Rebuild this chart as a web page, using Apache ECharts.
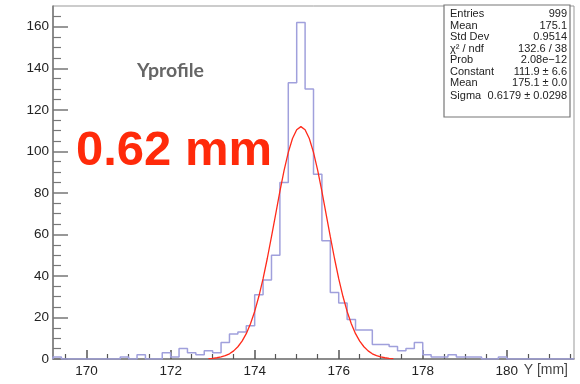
<!DOCTYPE html>
<html>
<head>
<meta charset="utf-8">
<script src="https://cdn.jsdelivr.net/npm/echarts@6/dist/echarts.min.js"></script>
<style>html,body{margin:0;padding:0;background:#fff;}#c{width:580px;height:384px;}</style>
</head>
<body>
<div id="c"></div>
<script>
// Histogram: bins of width 0.2 starting at 169.2 (62 bins up to 181.6)
const binStart = 169.2;
const binWidth = 0.2;
const counts = [1,0,0,0,0,0,0,0,1,0, 2,0,0,3,1,5,3,2,4,3, 8,12,13,16,31,38,50,85,133,162, 130,89,57,32,27,19,14,14,7,7, 6,4,5,8,2,1,1,2,1,1, 1,0,0,1,0,0,0,0,0,0, 0,0];

// Gaussian fit curve
const fitX = [172.9,173.0,173.1,173.2,173.3,173.4,173.5,173.6,173.7,173.8,173.9,174.0,174.1,174.2,174.3,174.4,174.5,174.6,174.7,174.8,174.9,175.0,175.1,175.2,175.3,175.4,175.5,175.6,175.7,175.8,175.9,176.0,176.1,176.2,176.3,176.4,176.5,176.6,176.7,176.8,176.9,177.0,177.1,177.2,177.3];
const fitY = [0.2,0.35,0.6,1.0,1.6,2.5,3.9,5.9,8.6,12.2,17.0,22.9,30.2,38.7,48.4,58.9,69.8,80.7,90.8,99.5,106.2,110.4,111.9,110.4,106.2,99.5,90.8,80.7,69.8,58.9,48.4,38.7,30.2,22.9,17.0,12.2,8.6,5.9,3.9,2.5,1.6,1.0,0.6,0.35,0.2];

// Axis ticks
const xMajor = [170,172,174,176,178,180];
const xMinor = [169.5,170.5,171,171.5,172.5,173,173.5,174.5,175,175.5,176.5,177,177.5,178.5,179,179.5,180.5,181,181.5];
const yMajor = [0,20,40,60,80,100,120,140,160];
const yMinor = [5,10,15,25,30,35,45,50,55,65,70,75,85,90,95,105,110,115,125,130,135,145,150,155,165];

// Stats box
const statLabels = ['Entries','Mean','Std Dev','\u03c7\u00b2 / ndf','Prob','Constant','Mean','Sigma'];
const statValues = ['999','175.1','0.9514','132.6 / 38','2.08e\u221212','111.9 \u00b1 6.6','175.1 \u00b1 0.0','0.6179 \u00b1 0.0298'];

const xMin = binStart, xMax = binStart + binWidth * counts.length;

const histData = [[binStart, 0]];
counts.forEach((c, i) => histData.push([binStart + binWidth * i, c]));
histData.push([xMax, counts[counts.length - 1]]);
histData.push([xMax, 0]);

const fitData = fitX.map((x, i) => [x, fitY[i]]);

const FONT = "'Liberation Sans', Arial, sans-serif";
const chart = echarts.init(document.getElementById('c'), null, {renderer: 'canvas'});

const statRowsY = [14, 26, 37.3, 48.6, 60, 71.5, 83.3, 96];
const graphics = [
  {type: 'text', left: 137, top: 61, style: {text: 'Yprofile', font: "bold 19.5px Lato, 'Open Sans', sans-serif", fill: '#666'}},
  {type: 'text', left: 76, top: 127, style: {text: '0.62 mm', font: "bold 49px " + FONT, fill: '#ff2a0a'}},
  {type: 'text', right: 12, top: 363, style: {text: 'Y [mm]', font: "14px " + FONT, fill: '#444'}},
  {type: 'rect', shape: {x: 444, y: 5, width: 126, height: 112}, style: {fill: '#fff', stroke: '#777', lineWidth: 1.2}, z: 10}
];
statLabels.forEach((t, i) => {
  graphics.push({type: 'text', x: 450, y: statRowsY[i], z: 11, style: {text: t, font: '11px ' + FONT, fill: '#222', textVerticalAlign: 'middle'}});
  graphics.push({type: 'text', x: 567, y: statRowsY[i], z: 11, style: {text: statValues[i], font: '11px ' + FONT, fill: '#222', textAlign: 'right', textVerticalAlign: 'middle'}});
});

const axisLineStyle = {color: '#777', width: 1.5};
chart.setOption({
  animation: false,
  backgroundColor: '#fff',
  grid: {left: 53, right: 6, top: 6, bottom: 25, show: true, borderColor: '#999', borderWidth: 1},
  xAxis: [
    {type: 'value', min: xMin, max: xMax, position: 'bottom',
     axisLine: {show: true, onZero: false, lineStyle: axisLineStyle},
     axisTick: {show: true, inside: true, length: 9, customValues: xMajor, lineStyle: {color: '#555', width: 1.5}},
     axisLabel: {show: true, customValues: xMajor, margin: 5, fontSize: 13.5, color: '#222', fontFamily: FONT},
     splitLine: {show: false}},
    {type: 'value', min: xMin, max: xMax, position: 'bottom', offset: 0,
     axisLine: {show: false},
     axisTick: {show: true, inside: true, length: 5, customValues: xMinor, lineStyle: {color: '#555', width: 1.2}},
     axisLabel: {show: false}, splitLine: {show: false}}
  ],
  yAxis: [
    {type: 'value', min: 0, max: 170, position: 'left',
     axisLine: {show: true, onZero: false, lineStyle: axisLineStyle},
     axisTick: {show: true, inside: true, length: 15, customValues: yMajor, lineStyle: {color: '#777', width: 1.5}},
     axisLabel: {show: true, customValues: yMajor, margin: 4, fontSize: 13.5, color: '#222', fontFamily: FONT},
     splitLine: {show: false}},
    {type: 'value', min: 0, max: 170, position: 'left', offset: 0,
     axisLine: {show: false},
     axisTick: {show: true, inside: true, length: 8, customValues: yMinor, lineStyle: {color: '#777', width: 1.2}},
     axisLabel: {show: false}, splitLine: {show: false}}
  ],
  series: [
    {type: 'line', name: 'hist', xAxisIndex: 0, yAxisIndex: 0, data: histData, step: 'end', showSymbol: false, symbol: 'none',
     lineStyle: {color: '#a0a0dc', width: 1.5}, z: 2},
    {type: 'line', name: 'fit', xAxisIndex: 0, yAxisIndex: 0, data: fitData, smooth: false, showSymbol: false, symbol: 'none',
     lineStyle: {color: '#ff2a1a', width: 1.3}, z: 3}
  ],
  graphic: graphics
});
</script>
</body>
</html>
